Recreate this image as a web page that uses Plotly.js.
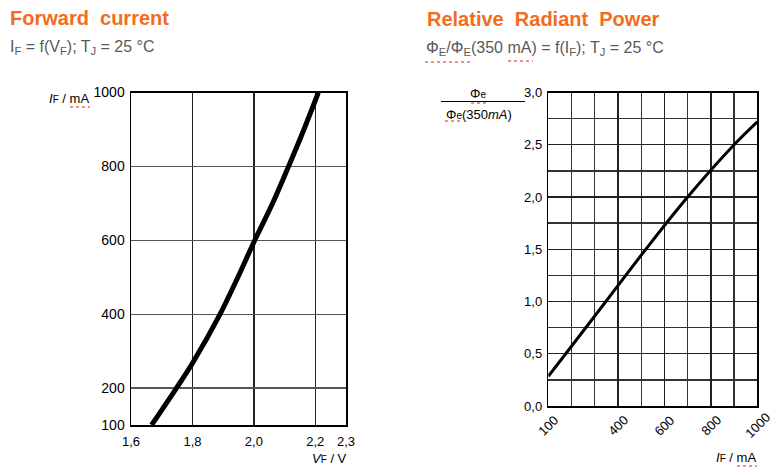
<!DOCTYPE html>
<html>
<head>
<meta charset="utf-8">
<script src="https://cdn.plot.ly/plotly-3.0.1.min.js"></script>
<style>html,body{margin:0;padding:0;background:#fff;}#chart{width:779px;height:473px;}</style>
</head>
<body>
<div id="chart"></div>
<script>
// ---- Data ----
const vfVolts   = [1.667, 1.748, 1.8, 1.89, 1.948, 2.003, 2.061, 2.113, 2.163, 2.21];
const ifCurrent = [100, 200, 267, 400, 500, 600, 700, 800, 900, 1000];

const ifRel  = [100, 175, 348, 520, 700, 900, 1000];
const phiRel = [0.285, 0.5, 1.0, 1.5, 2.0, 2.5, 2.72];

const fwdXTicks = [1.6, 1.8, 2.0, 2.2, 2.3];
const fwdXText  = ['1,6', '1,8', '2,0', '2,2', '2,3'];
const fwdYTicks = [100, 200, 400, 600, 800, 1000];
const fwdYText  = ['100', '200', '400', '600', '800', '1000'];

const relXLabels = [100, 400, 600, 800, 1000];
const relYTicks = [0, 0.5, 1.0, 1.5, 2.0, 2.5, 3.0];
const relYText  = ['0,0', '0,5', '1,0', '1,5', '2,0', '2,5', '3,0'];

// ---- helpers: pixel -> paper ----
const W = 779, H = 473;
const X = px => px / W;
const Y = py => 1 - py / H;

const FONT = 'Liberation Sans, Arial, sans-serif';
const ORANGE = '#F36C21';
const GREY = '#5a5a5a';

const traces = [
  {x: vfVolts, y: ifCurrent, xaxis: 'x', yaxis: 'y', mode: 'lines',
   line: {color: '#000', width: 5, shape: 'spline', smoothing: 1}, hoverinfo: 'skip'},
  {x: ifRel, y: phiRel, xaxis: 'x2', yaxis: 'y2', mode: 'lines',
   line: {color: '#000', width: 3, shape: 'spline', smoothing: 1}, hoverinfo: 'skip'}
];

const axisCommon = {
  showline: true, mirror: true, linecolor: '#000', linewidth: 1.5,
  zeroline: false, showgrid: true, ticks: '', fixedrange: true,
  tickfont: {family: FONT, size: 13, color: '#000'}
};

const annotations = [
  {text: '<b>Forward\u00a0 current</b>', x: X(8), y: Y(18), xref: 'paper', yref: 'paper',
   xanchor: 'left', yanchor: 'middle', showarrow: false, font: {family: FONT, size: 20, color: ORANGE}},
  {text: 'I<sub>F</sub> = f(V<sub>F</sub>); T<sub>J</sub> = 25 °C', x: X(8), y: Y(47), xref: 'paper', yref: 'paper',
   xanchor: 'left', yanchor: 'middle', showarrow: false, font: {family: FONT, size: 16, color: GREY}},
  {text: '<b>Relative\u00a0 Radiant\u00a0 Power</b>', x: X(425), y: Y(19), xref: 'paper', yref: 'paper',
   xanchor: 'left', yanchor: 'middle', showarrow: false, font: {family: FONT, size: 20, color: ORANGE}},
  {text: 'Φ<sub>E</sub>/Φ<sub>E</sub>(350 mA) = f(I<sub>F</sub>); T<sub>J</sub> = 25 °C', x: X(424), y: Y(48), xref: 'paper', yref: 'paper',
   xanchor: 'left', yanchor: 'middle', showarrow: false, font: {family: FONT, size: 16, color: GREY}},
  // axis titles
  {text: '<i>I</i><span style="font-size:10px">F</span> / mA', x: X(47), y: Y(98), xref: 'paper', yref: 'paper',
   xanchor: 'left', yanchor: 'middle', showarrow: false, font: {family: FONT, size: 13, color: '#000'}},
  {text: '<i>V</i><span style="font-size:10px">F</span> / V', x: X(349), y: Y(458), xref: 'paper', yref: 'paper',
   xanchor: 'right', yanchor: 'middle', showarrow: false, font: {family: FONT, size: 13, color: '#000'}},
  {text: '<i>I</i><span style="font-size:10px">F</span> / mA', x: X(758), y: Y(457), xref: 'paper', yref: 'paper',
   xanchor: 'right', yanchor: 'middle', showarrow: false, font: {family: FONT, size: 13, color: '#000'}},
  {text: 'Φ<span style="font-size:10px">e</span>', x: X(478), y: Y(93), xref: 'paper', yref: 'paper',
   xanchor: 'center', yanchor: 'middle', showarrow: false, font: {family: FONT, size: 13, color: '#000'}},
  {text: 'Φ<span style="font-size:10px">e</span>(350<i>mA</i>)', x: X(444), y: Y(114), xref: 'paper', yref: 'paper',
   xanchor: 'left', yanchor: 'middle', showarrow: false, font: {family: FONT, size: 13, color: '#000'}}
];

// rotated x tick labels of the right chart, centred on their tick
relXLabels.forEach(v => annotations.push({
  text: String(v), x: v, xref: 'x2', y: Y(425), yref: 'paper', textangle: -45,
  xanchor: 'center', yanchor: 'middle', showarrow: false,
  font: {family: FONT, size: 13, color: '#000'}
}));

const red = {color: '#d22', width: 1, dash: 'dot'};
const shapes = [
  {type: 'line', xref: 'paper', yref: 'paper', x0: X(441), x1: X(525), y0: Y(101.5), y1: Y(101.5), line: {color: '#000', width: 1}},
  {type: 'line', xref: 'paper', yref: 'paper', x0: X(70), x1: X(90), y0: Y(107), y1: Y(107), line: red},
  {type: 'line', xref: 'paper', yref: 'paper', x0: X(737), x1: X(757), y0: Y(466), y1: Y(466), line: red},
  {type: 'line', xref: 'paper', yref: 'paper', x0: X(425), x1: X(470), y0: Y(62), y1: Y(62), line: red},
  {type: 'line', xref: 'paper', yref: 'paper', x0: X(508), x1: X(533), y0: Y(61), y1: Y(61), line: red},
  {type: 'line', xref: 'paper', yref: 'paper', x0: X(471), x1: X(486), y0: Y(103), y1: Y(103), line: red},
  {type: 'line', xref: 'paper', yref: 'paper', x0: X(445), x1: X(462), y0: Y(121), y1: Y(121), line: red}
];

const layout = {
  width: W, height: H,
  margin: {l: 0, r: 0, t: 0, b: 0, pad: 0},
  paper_bgcolor: '#fff', plot_bgcolor: '#fff',
  showlegend: false,
  font: {family: FONT, size: 13, color: '#000'},
  xaxis: Object.assign({}, axisCommon, {
    domain: [X(131), X(346)], range: [1.6, 2.3], anchor: 'y',
    tickmode: 'array', tickvals: fwdXTicks, ticktext: fwdXText,
    gridcolor: '#222', gridwidth: 1.3, ticklabelstandoff: 4
  }),
  yaxis: Object.assign({}, axisCommon, {
    domain: [Y(425), Y(92.5)], range: [100, 1000], anchor: 'x',
    tickmode: 'array', tickvals: fwdYTicks, ticktext: fwdYText,
    tickfont: {family: FONT, size: 14, color: '#000'},
    gridcolor: '#555', gridwidth: 1.3, ticklabelstandoff: 2
  }),
  xaxis2: Object.assign({}, axisCommon, {
    domain: [X(548.3), X(757.3)], range: [100, 1000], anchor: 'y2',
    tickmode: 'array', tickvals: relXLabels, showticklabels: false,
    gridcolor: '#222', gridwidth: 1.3,
    minor: {tick0: 100, dtick: 100, showgrid: true, gridcolor: '#333', gridwidth: 1.3, ticks: ''}
  }),
  yaxis2: Object.assign({}, axisCommon, {
    domain: [Y(406), Y(92.5)], range: [0, 3], anchor: 'x2',
    tickmode: 'array', tickvals: relYTicks, ticktext: relYText,
    gridcolor: '#222', gridwidth: 1.3, ticklabelstandoff: 2,
    minor: {tick0: 0, dtick: 0.25, showgrid: true, gridcolor: '#333', gridwidth: 1.3, ticks: ''}
  }),
  annotations: annotations,
  shapes: shapes
};

Plotly.newPlot('chart', traces, layout, {staticPlot: true, displayModeBar: false});
</script>
</body>
</html>
